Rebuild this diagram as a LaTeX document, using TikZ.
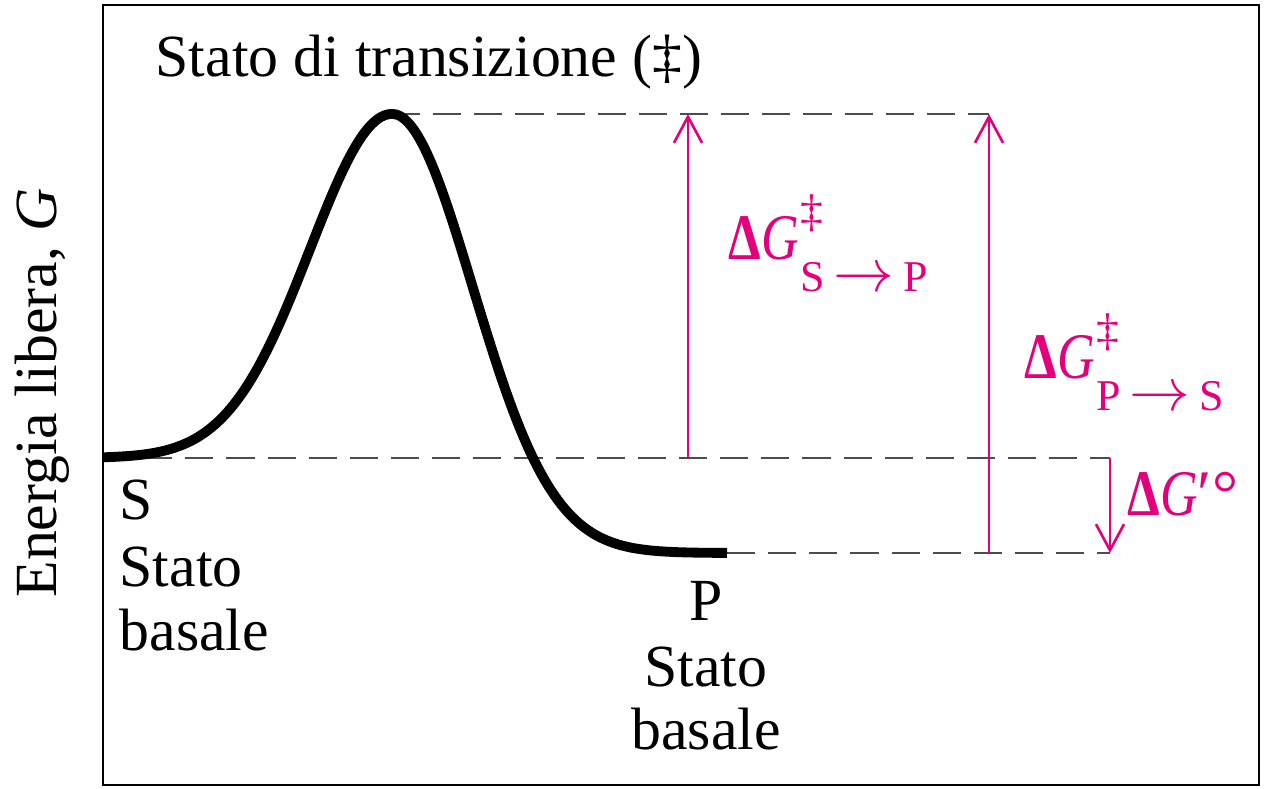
\documentclass[tikz,border=0pt]{standalone}
\usepackage{graphicx}
\usepackage{fontspec}
\setmainfont{Liberation Serif}
\usetikzlibrary{arrows.meta}
\definecolor{rosa}{HTML}{E4007C}
\newcommand{\dG}{\scalebox{0.8}[1]{\textbf{Δ}\textit{G}}}
\newcommand{\dGatt}[2]{\dG\hspace{0.5pt}\rlap{\raisebox{9.5pt}{\fontsize{13}{13}\selectfont‡}}%
  \raisebox{-9pt}{\fontsize{12.5}{12.5}\selectfont #1\hspace{2.5pt}{\fontsize{17}{17}\selectfont$\rightarrow$}\hspace{2.5pt}#2}}
\tikzset{
  tratteggio/.style={dash pattern=on 8pt off 3.7pt,line width=0.6pt,black!70},
  freccia/.style={rosa,line width=0.75pt,-{Straight Barb[length=2.6mm,width=2.8mm]}},
  etichetta/.style={rosa,inner sep=0pt,anchor=base west,font=\fontsize{18.5}{22}\selectfont},
  testo/.style={inner sep=0pt,font=\fontsize{17}{20}\selectfont}
}
\begin{document}
\begin{tikzpicture}[x=0.01cm,y=-0.01cm]
  \useasboundingbox (0,0) rectangle (1266,789);
  \draw[line width=0.8pt] (103,5) rectangle (1259,785);
  % livelli
  \coordinate (S) at (103,458);  \coordinate (T) at (392,114);  \coordinate (P) at (727,553);
  \coordinate (tA) at (688,114); \coordinate (tB) at (989,114);
  \coordinate (sA) at (688,458); \coordinate (sC) at (1110,458);
  \coordinate (pB) at (989,553); \coordinate (pC) at (1110,553);
  \draw[tratteggio] (T) -- (tB) (S) -- (sC) (P) -- (pC);
  \draw[freccia] (sA) -- (tA);
  \draw[freccia] (pB) -- (tB);
  \draw[freccia] (sC) -- (pC);
  % profilo energetico
  \draw[line width=2.8pt,samples=80,smooth]
    plot[domain=103:392] (\x,{458-344*exp(-((\x-392)/116)*((\x-392)/116))})
    -- plot[domain=392:727] (\x,{553-439*exp(-((\x-392)/114)*((\x-392)/114))});
  % testi
  \node[testo,anchor=base west] (titolo) at (155,77) {Stato di transizione (‡)};
  \node[testo,rotate=90] (asse) at (42,393) {Energia libera, \textit{G}};
  \node[testo,anchor=base west] (sLab) at (119,520) {S};
  \node[testo,anchor=base west] (sStato) at (119,587) {Stato};
  \node[testo,anchor=base west] (sBasale) at (119,651) {basale};
  \node[testo,anchor=base] (pLab) at (706,621) {P};
  \node[testo,anchor=base] (pStato) at (706,687) {Stato};
  \node[testo,anchor=base] (pBasale) at (706,750) {basale};
  \node[etichetta] (dSP) at (728,260) {\dGatt{S}{P}};
  \node[etichetta] (dPS) at (1024,379) {\dGatt{P}{S}};
  \node[etichetta] (dG) at (1127,516) {\dG′°};
\end{tikzpicture}
\end{document}
